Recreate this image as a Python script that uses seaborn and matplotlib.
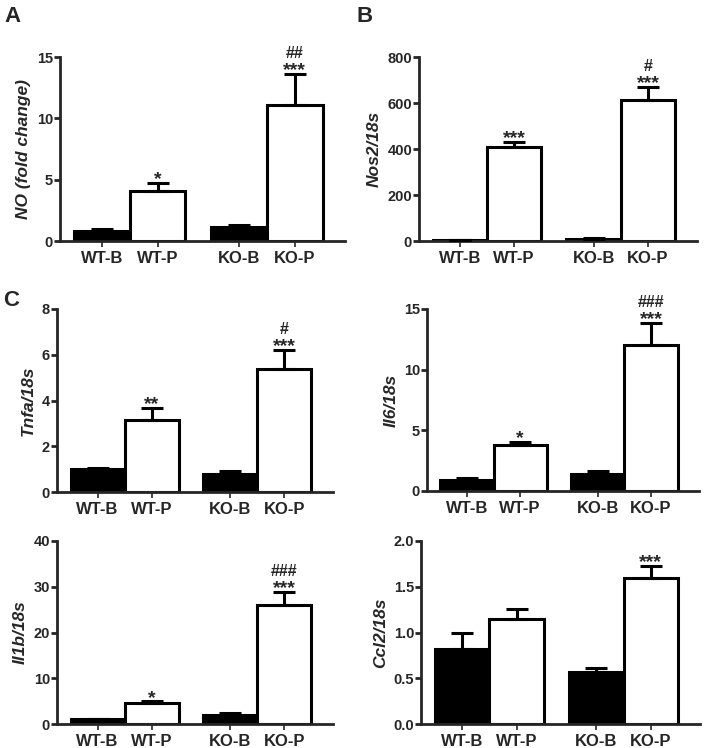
import matplotlib

matplotlib.use("Agg")
import matplotlib.pyplot as plt
import numpy as np
import pandas as pd
import seaborn as sns

# groups shown on every panel
groups = ["WT-B", "WT-P", "KO-B", "KO-P"]
conditions = ["B", "P", "B", "P"]

# A: NO (fold change)
no_mean = [0.82, 4.06, 1.14, 11.1]
no_err = [0.16, 0.7, 0.19, 2.5]
no_stars = ["", "*", "", "***"]
no_hash = ["", "", "", "##"]

# B: Nos2/18s
nos2_mean = [3, 410, 10, 611]
nos2_err = [1, 22, 4, 58]
nos2_stars = ["", "***", "", "***"]
nos2_hash = ["", "", "", "#"]

# C: cytokines
tnfa_mean = [1.02, 3.13, 0.8, 5.37]
tnfa_err = [0.04, 0.54, 0.1, 0.84]
tnfa_stars = ["", "**", "", "***"]
tnfa_hash = ["", "", "", "#"]

il6_mean = [0.88, 3.83, 1.38, 12.02]
il6_err = [0.19, 0.22, 0.3, 1.82]
il6_stars = ["", "*", "", "***"]
il6_hash = ["", "", "", "###"]

il1b_mean = [1.0, 4.6, 1.96, 25.96]
il1b_err = [0.2, 0.35, 0.5, 2.9]
il1b_stars = ["", "*", "", "***"]
il1b_hash = ["", "", "", "###"]

ccl2_mean = [0.825, 1.145, 0.564, 1.593]
ccl2_err = [0.175, 0.115, 0.046, 0.134]
ccl2_stars = ["", "", "", "***"]
ccl2_hash = ["", "", "", ""]

# layout: bar centres (bars touch inside a genotype, small gap between)
bar_pos = [0.0, 1.0, 2.46, 3.46]

W, H = 705, 748
sns.set_theme(style="ticks")
plt.rcParams["font.family"] = ["Liberation Sans", "DejaVu Sans"]
plt.rcParams["font.weight"] = "bold"

fig = plt.figure(figsize=(W / 100, H / 100), dpi=100)


def px_axes(left, right, top, bottom):
    return fig.add_axes(
        [left / W, 1 - bottom / H, (right - left) / W, (bottom - top) / H]
    )


def panel(ax, mean, err, stars, hashes, ylabel, yticks, ticklabels=None):
    df = pd.DataFrame(
        {"group": groups, "pos": bar_pos, "value": mean, "cond": conditions}
    )
    sns.barplot(
        data=df,
        x="pos",
        y="value",
        hue="cond",
        palette={"B": "black", "P": "white"},
        native_scale=True,
        dodge=False,
        width=1,
        edgecolor="black",
        linewidth=2.2,
        errorbar=None,
        legend=False,
        ax=ax,
    )
    ax.errorbar(
        df["pos"],
        df["value"],
        yerr=[np.zeros(len(err)), err],
        fmt="none",
        ecolor="black",
        elinewidth=2.2,
        capsize=8,
        capthick=2.2,
        zorder=3,
    )
    for x, m, e, s, h in zip(bar_pos, mean, err, stars, hashes):
        if s:
            ax.annotate(
                s, (x, m + e), xytext=(0, -1), textcoords="offset points",
                ha="center", va="baseline", fontsize=14, fontweight="bold",
            )
        if h:
            ax.annotate(
                h, (x, m + e), xytext=(0, 11.5), textcoords="offset points",
                ha="center", va="baseline", fontsize=11.5, fontweight="bold",
            )
    ax.set_xlim(-0.75, 4.36)
    ax.set_ylim(yticks[0], yticks[-1])
    ax.set_yticks(yticks)
    if ticklabels is not None:
        ax.set_yticklabels(ticklabels)
    ax.set_xticks(bar_pos)
    ax.set_xticklabels(groups, fontsize=12, fontweight="bold")
    ax.tick_params(axis="y", labelsize=10.5, length=4, width=2, pad=1)
    ax.tick_params(axis="x", length=4, width=1.2, pad=3)
    ax.set_xlabel("")
    ax.set_ylabel(ylabel, fontsize=12.5, fontweight="bold", style="italic", labelpad=4)
    sns.despine(ax=ax)
    for side in ["left", "bottom"]:
        ax.spines[side].set_linewidth(2)
    ax.spines["left"].set_bounds(yticks[0], yticks[-1])


ax_a = px_axes(60, 345, 57, 241)
panel(ax_a, no_mean, no_err, no_stars, no_hash, "NO (fold change)", [0, 5, 10, 15])

ax_b = px_axes(419, 697, 57, 241)
panel(ax_b, nos2_mean, nos2_err, nos2_stars, nos2_hash, "Nos2/18s",
      [0, 200, 400, 600, 800])

ax_tnfa = px_axes(57, 333, 309, 492)
panel(ax_tnfa, tnfa_mean, tnfa_err, tnfa_stars, tnfa_hash, "Tnfa/18s",
      [0, 2, 4, 6, 8])

ax_il6 = px_axes(427, 699, 309, 491)
panel(ax_il6, il6_mean, il6_err, il6_stars, il6_hash, "Il6/18s", [0, 5, 10, 15])

ax_il1b = px_axes(57, 333, 541, 724)
panel(ax_il1b, il1b_mean, il1b_err, il1b_stars, il1b_hash, "Il1b/18s",
      [0, 10, 20, 30, 40])

ax_ccl2 = px_axes(421, 700, 541, 724)
panel(ax_ccl2, ccl2_mean, ccl2_err, ccl2_stars, ccl2_hash, "Ccl2/18s",
      [0, 0.5, 1.0, 1.5, 2.0], ["0.0", "0.5", "1.0", "1.5", "2.0"])

for letter, x, y in [("A", 4, 6), ("B", 357, 6), ("C", 3, 290)]:
    fig.text(x / W, 1 - y / H, letter, fontsize=16, fontweight="bold", va="top")

fig.savefig("out.png", dpi=100)
